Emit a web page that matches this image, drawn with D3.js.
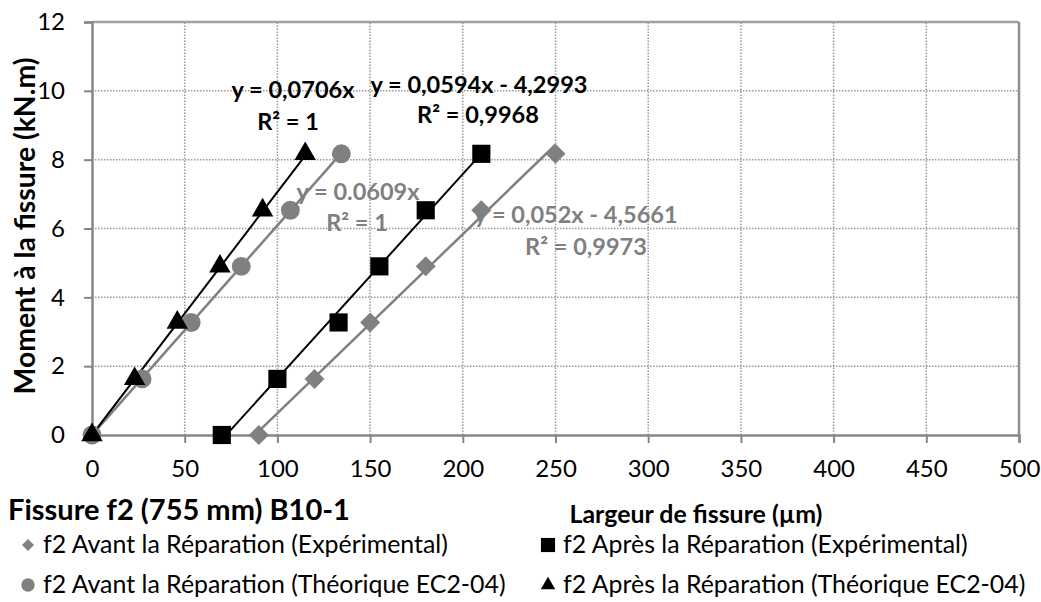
<!DOCTYPE html>
<html><head><meta charset="utf-8">
<script src="https://cdn.jsdelivr.net/npm/d3@7"></script>
<style>
html,body{margin:0;padding:0;background:#fff;}
svg{display:block;font-family:Lato,"Open Sans",sans-serif;}
</style></head>
<body><svg id="c" width="1041" height="602"></svg>
<script>
// ---- data ----
const moments = [0, 1.63, 3.27, 4.9, 6.53, 8.17];
const avantExpX = [90, 120, 150, 180, 210, 250];
const apresExpX = [70, 100, 133, 155, 180, 210];
const avantTheoX = [0, 27, 53.5, 80.5, 107, 134.5];
const apresTheoX = [0, 23, 46, 69, 92, 115];
const seriesNames = [
  "f2 Avant la Réparation (Expérimental)",
  "f2 Après la Réparation (Expérimental)",
  "f2 Avant la Réparation (Théorique EC2-04)",
  "f2 Après la Réparation (Théorique EC2-04)"
];
const trendSlopes = [0.052, 0.0594, 0.0609, 0.0706];
const trendIntercepts = [-4.5661, -4.2993, 0, 0];
const eqLabels = ["y = 0,052x - 4,5661", "y = 0,0594x - 4,2993", "y = 0.0609x", "y = 0,0706x"];
const r2Labels = ["R² = 0,9973", "R² = 0,9968", "R² = 1", "R² = 1"];
const xTicks = [0, 50, 100, 150, 200, 250, 300, 350, 400, 450, 500];
const yTicks = [0, 2, 4, 6, 8, 10, 12];
const chartTitle = "Fissure f2 (755 mm) B10-1";
const xTitle = "Largeur de fissure (µm)";
const yTitle = "Moment à la fissure (kN.m)";

// ---- layout ----
const svg = d3.select("#c");
const x = d3.scaleLinear().domain([0, 500]).range([92, 1019]);
const y = d3.scaleLinear().domain([0, 12]).range([435, 22]);
const GRAY = "#808080";
const xsList = [avantExpX, apresExpX, avantTheoX, apresTheoX];
const colors = [GRAY, "#000", GRAY, "#000"];
const shapes = [d3.symbolSquare, d3.symbolSquare, d3.symbolCircle, d3.symbolTriangle];
const rot = [45, 0, 0, 0];

// scale a text's font so that its rendered width matches a target width
function fit(sel, target) {
  const fs = parseFloat(sel.style("font-size"));
  const w = sel.node().getComputedTextLength();
  sel.style("font-size", (fs * target / w).toFixed(2) + "px");
  return fs * target / w;
}

// gridlines
const grid = svg.append("g");
grid.selectAll("line.v").data(xTicks.filter(d => d > 0 && d < 500)).join("line")
  .attr("x1", d => x(d)).attr("x2", d => x(d)).attr("y1", y(0)).attr("y2", y(12))
  .attr("stroke", "#9a9a9a").attr("stroke-width", 1.5).attr("stroke-dasharray", "1.5,1.5");
grid.selectAll("line.h").data(yTicks.filter(d => d > 0 && d < 12)).join("line")
  .attr("x1", x(0)).attr("x2", x(500)).attr("y1", d => y(d)).attr("y2", d => y(d))
  .attr("stroke", "#9a9a9a").attr("stroke-width", 1.5).attr("stroke-dasharray", "1.5,1.5");
// plot border (top and right)
grid.append("line").attr("x1", x(0)).attr("x2", x(500)).attr("y1", y(12)).attr("y2", y(12))
  .attr("stroke", "#a0a0a0").attr("stroke-width", 2.5);
grid.append("line").attr("x1", x(500)).attr("x2", x(500)).attr("y1", y(12)).attr("y2", y(0))
  .attr("stroke", "#909090").attr("stroke-width", 2.5);

// axes
const xAxis = svg.append("g").attr("transform", `translate(0,${y(0)})`)
  .call(d3.axisBottom(x).tickValues(xTicks).tickSize(8).tickPadding(17).tickFormat(d3.format("d")));
const yAxis = svg.append("g").attr("transform", `translate(${x(0)},0)`)
  .call(d3.axisLeft(y).tickValues(yTicks).tickSize(8).tickPadding(19).tickFormat(d3.format("d")));
[xAxis, yAxis].forEach(a => {
  a.select(".domain").attr("stroke", "#868686").attr("stroke-width", 2.5);
  a.selectAll(".tick line").attr("stroke", "#868686").attr("stroke-width", 2);
  a.selectAll(".tick text").attr("fill", "#000").style("font-size", "24px").style("font-family", "Lato");
});
xAxis.selectAll(".tick text").attr("dy", "0.71em");

// trendlines
svg.append("clipPath").attr("id", "pc").append("rect")
  .attr("x", x(0)).attr("y", y(12)).attr("width", x(500) - x(0)).attr("height", y(0) - y(12));
const tl = svg.append("g").attr("clip-path", "url(#pc)");
xsList.forEach((xs, i) => {
  const x0 = d3.min(xs), x1 = d3.max(xs);
  tl.append("line")
    .attr("x1", x(x0)).attr("y1", y(trendSlopes[i] * x0 + trendIntercepts[i]))
    .attr("x2", x(x1)).attr("y2", y(trendSlopes[i] * x1 + trendIntercepts[i]))
    .attr("stroke", colors[i]).attr("stroke-width", i % 2 ? 2 : 2.5);
});

// markers
const sizes = [200, 330, 280, 200];
const order = [2, 3, 0, 1];
order.forEach(i => {
  svg.append("g").selectAll("path").data(xsList[i].map((v, k) => [v, moments[k]])).join("path")
    .attr("transform", d => `translate(${x(d[0])},${y(d[1])}) rotate(${rot[i]})`)
    .attr("d", d3.symbol().type(shapes[i]).size(sizes[i]))
    .attr("fill", colors[i]);
});

// trendline labels
const lab = svg.append("g").attr("font-weight", "bold").attr("text-anchor", "middle").style("font-size", "24px");
const eqPos = [[576, 223, 586, 255], [479, 93, 478, 123], [358, 200, 357, 231], [293, 98, 288, 130]];
const eqTexts = [], r2Texts = [];
eqLabels.forEach((t, i) => {
  eqTexts.push(lab.append("text").attr("x", eqPos[i][0]).attr("y", eqPos[i][1]).attr("fill", colors[i]).text(t));
  r2Texts.push(lab.append("text").attr("x", eqPos[i][2]).attr("y", eqPos[i][3]).attr("fill", colors[i]).text(r2Labels[i]));
});
const labFs = fit(eqTexts[1], 217);
lab.selectAll("text").style("font-size", labFs.toFixed(2) + "px");

// axis titles
const yT = svg.append("text").attr("transform", `translate(35,226) rotate(-90)`).attr("text-anchor", "middle")
  .attr("font-weight", "bold").style("font-size", "24px").text(yTitle);
fit(yT, 337);
const xT = svg.append("text").attr("x", 696).attr("y", 523).attr("text-anchor", "middle")
  .attr("font-weight", "bold").style("font-size", "24px").text(xTitle);
fit(xT, 253);
const cT = svg.append("text").attr("x", 8).attr("y", 520)
  .attr("font-weight", "bold").style("font-size", "28px").text(chartTitle);
fit(cT, 342);

// legend
const legPos = [[28, 553], [548, 553], [28, 593], [548, 593]];
const legSizes = [72, 200, 140, 90];
const legTexts = [];
seriesNames.forEach((n, i) => {
  const g = svg.append("g").attr("transform", `translate(${legPos[i][0]},${legPos[i][1]})`);
  g.append("path").attr("transform", `translate(0,-8) rotate(${rot[i]})`)
    .attr("d", d3.symbol().type(shapes[i]).size(legSizes[i])).attr("fill", colors[i]);
  legTexts.push(g.append("text").attr("x", 15).attr("y", 0).style("font-size", "24px").text(n));
});
const legFs = fit(legTexts[0], 405);
legTexts.forEach(t => t.style("font-size", legFs.toFixed(2) + "px"));
</script></body></html>
